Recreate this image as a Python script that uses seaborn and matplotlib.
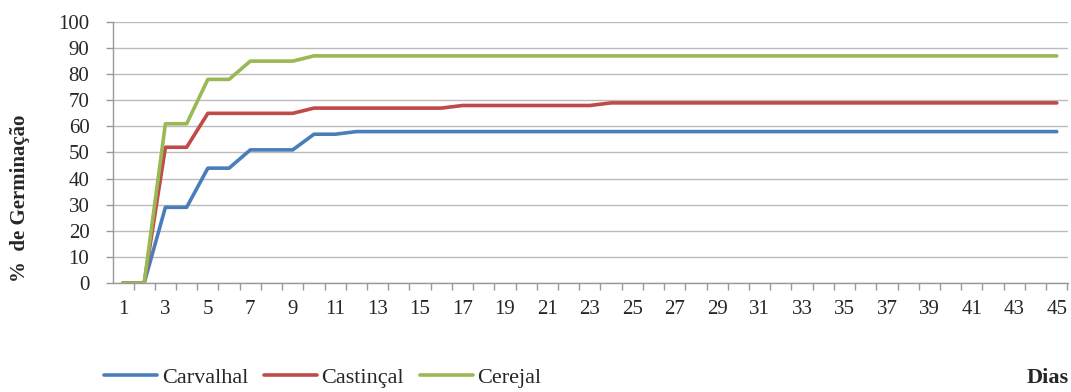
import matplotlib
matplotlib.use("Agg")
import matplotlib.pyplot as plt
import seaborn as sns
import pandas as pd
import numpy as np
from matplotlib.ticker import FixedLocator

days = list(range(1, 46))
carvalhal = [0, 0, 29, 29, 44, 44, 51, 51, 51, 57, 57] + [58] * 34
castincal = [0, 0, 52, 52, 65, 65, 65, 65, 65, 67, 67, 67, 67, 67, 67, 67] + [68] * 7 + [69] * 22
cerejal = [0, 0, 61, 61, 78, 78, 85, 85, 85] + [87] * 36
series_names = ["Carvalhal", "Castinçal", "Cerejal"]
colors = ["#4A7EBB", "#BE4B48", "#98B954"]

df = pd.DataFrame({"Dias": days, "Carvalhal": carvalhal, "Castinçal": castincal, "Cerejal": cerejal})
df = df.melt(id_vars="Dias", var_name="serie", value_name="pct")

sns.set_style("white")
plt.rcParams["font.family"] = ["Liberation Serif", "DejaVu Serif"]

fig = plt.figure(figsize=(10.71, 3.92), dpi=100)
ax = fig.add_axes([0.1055, 0.278, 0.8915, 0.666])

sns.lineplot(data=df, x="Dias", y="pct", hue="serie", hue_order=series_names,
             palette=colors, linewidth=2.6, ax=ax)

ax.set_xlim(0.53, 45.52)
ax.set_ylim(0, 100)
ax.set_yticks(range(0, 101, 10))
ax.yaxis.grid(True, color="#BBBBBB", linewidth=1)
ax.set_axisbelow(True)

ax.set_xticks(range(1, 46, 2))
ax.xaxis.set_minor_locator(FixedLocator(np.arange(0.5, 46, 1)))
ax.tick_params(axis="x", which="major", length=0, pad=12, labelsize=15)
ax.tick_params(axis="x", which="minor", length=5, color="#999999", width=1)
ax.tick_params(axis="y", length=5, color="#999999", width=1, labelsize=15, pad=12)
ax.yaxis.set_ticks_position("left")
ax.xaxis.set_ticks_position("bottom")

for s in ["top", "right"]:
    ax.spines[s].set_visible(False)
for s in ["left", "bottom"]:
    ax.spines[s].set_color("#999999")
    ax.spines[s].set_linewidth(1)

ax.set_xlabel("")
ax.set_ylabel("%  de Germinação", fontsize=15, fontweight="bold")
ax.yaxis.set_label_coords(-0.087, 0.326)
fig.text(0.998, 0.036, "Dias", ha="right", va="center", fontsize=16, fontweight="bold")

handles, labels = ax.get_legend_handles_labels()
ax.legend(handles, labels, loc="center left", bbox_to_anchor=(0.097, 0.036),
          bbox_transform=fig.transFigure, ncol=3, frameon=False, fontsize=16,
          handlelength=2.4, handletextpad=0.2, columnspacing=0.7, borderaxespad=0,
          borderpad=0)

fig.savefig("out.png", dpi=100)
